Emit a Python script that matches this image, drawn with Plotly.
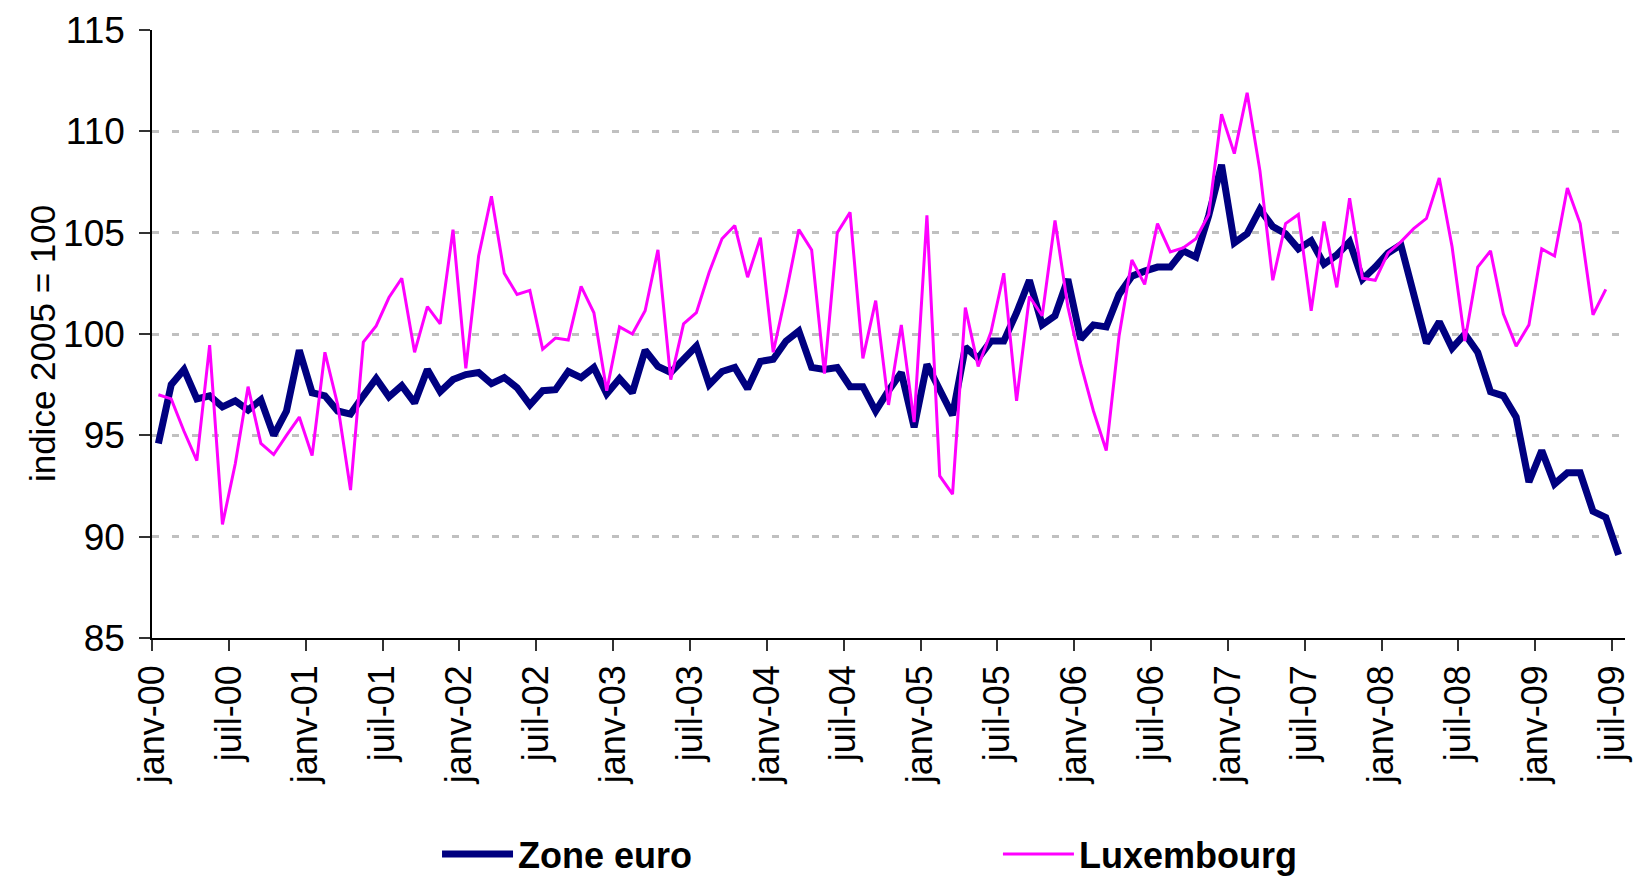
import plotly.graph_objects as go

# Monthly index values (2005 = 100), janv-00 .. juil-09
zone_euro = [
    94.6, 97.5, 98.25, 96.8, 96.95, 96.4, 96.7, 96.25, 96.75, 95.0, 96.2, 99.2,
    97.1, 96.95, 96.2, 96.05, 96.95, 97.8, 96.9, 97.45, 96.6, 98.25, 97.15, 97.75,
    98.0, 98.1, 97.55, 97.85, 97.35, 96.5, 97.2, 97.25, 98.15, 97.85, 98.35, 97.05,
    97.8, 97.1, 99.2, 98.4, 98.1, 98.8, 99.4, 97.5, 98.15, 98.35, 97.3, 98.65,
    98.75, 99.65, 100.15, 98.35, 98.25, 98.35, 97.4, 97.4, 96.2, 97.2, 98.1, 95.4,
    98.5, 97.25, 96.0, 99.35, 98.8, 99.65, 99.65, 101.05, 102.65, 100.45, 100.9, 102.7,
    99.75, 100.45, 100.35, 101.95, 102.85, 103.1, 103.3, 103.3, 104.1, 103.8, 105.85, 108.35,
    104.5, 104.95, 106.15, 105.3, 104.95, 104.2, 104.6, 103.45, 103.9, 104.55, 102.7, 103.3,
    104.0, 104.4, 102.0, 99.55, 100.6, 99.3, 100.0, 99.1, 97.15, 96.95, 95.9, 92.7,
    94.25, 92.6, 93.15, 93.15, 91.25, 90.95, 89.1,
]

# Monthly index values (2005 = 100), janv-00 .. juin-09
luxembourg = [
    97.0, 96.8, 95.2, 93.75, 99.45, 90.6, 93.6, 97.4, 94.6, 94.05, 95.0, 95.9,
    94.0, 99.1, 96.5, 92.3, 99.6, 100.4, 101.8, 102.75, 99.1, 101.35, 100.5, 105.15,
    98.3, 103.85, 106.8, 103.0, 101.95, 102.15, 99.25, 99.8, 99.7, 102.35, 101.05, 97.2,
    100.35, 100.0, 101.15, 104.15, 97.75, 100.5, 101.05, 103.05, 104.7, 105.35, 102.8, 104.75,
    99.1, 102.0, 105.15, 104.15, 98.05, 105.0, 106.0, 98.8, 101.65, 96.5, 100.45, 95.65,
    105.85, 93.0, 92.1, 101.3, 98.4, 100.1, 103.0, 96.7, 101.85, 100.9, 105.6, 101.35,
    98.55, 96.2, 94.25, 99.9, 103.65, 102.45, 105.45, 104.05, 104.25, 104.7, 105.9, 110.85,
    108.9, 111.9, 108.05, 102.65, 105.45, 105.9, 101.15, 105.55, 102.3, 106.7, 102.75, 102.65,
    104.0, 104.55, 105.2, 105.7, 107.7, 104.3, 99.65, 103.3, 104.1, 101.0, 99.4, 100.45,
    104.2, 103.85, 107.2, 105.45, 100.95, 102.2,
]

tick_labels = [
    "janv-00", "juil-00", "janv-01", "juil-01", "janv-02", "juil-02", "janv-03",
    "juil-03", "janv-04", "juil-04", "janv-05", "juil-05", "janv-06", "juil-06",
    "janv-07", "juil-07", "janv-08", "juil-08", "janv-09", "juil-09",
]

y_ticks = [85, 90, 95, 100, 105, 110, 115]
y_title = "indice 2005 = 100"

# month index: each point sits in the middle of its month
x_ze = [i + 0.5 for i in range(len(zone_euro))]
x_lu = [i + 0.5 for i in range(len(luxembourg))]
tick_vals = [6 * k for k in range(len(tick_labels))]

FONT = "Arial, Liberation Sans, sans-serif"
LEG_FONT = dict(family=FONT, size=36, color="black", weight="bold")

fig = go.Figure()
fig.add_trace(go.Scatter(
    x=x_ze, y=zone_euro, mode="lines", name="Zone euro",
    line=dict(color="#000080", width=7), legend="legend",
))
fig.add_trace(go.Scatter(
    x=x_lu, y=luxembourg, mode="lines", name="Luxembourg",
    line=dict(color="#FF00FF", width=3), legend="legend2",
))

fig.update_layout(
    width=1637, height=877,
    margin=dict(l=152, r=12, t=30, b=239, autoexpand=False),
    paper_bgcolor="white", plot_bgcolor="white",
    font=dict(family=FONT, size=36, color="black"),
    showlegend=True,
    legend=dict(
        orientation="h", x=0.1935, y=-0.3555, xanchor="left", yanchor="middle",
        font=LEG_FONT, itemwidth=71, bgcolor="rgba(0,0,0,0)",
    ),
    legend2=dict(
        orientation="h", x=0.5743, y=-0.3555, xanchor="left", yanchor="middle",
        font=LEG_FONT, itemwidth=71, bgcolor="rgba(0,0,0,0)",
    ),
    annotations=[dict(
        text=y_title, textangle=-90, xref="paper", yref="paper",
        x=-0.0747, y=0.485, xanchor="center", yanchor="middle", showarrow=False,
        font=dict(family=FONT, size=35, color="black"),
    )],
)

fig.update_xaxes(
    range=[0, 115], tickmode="array", tickvals=tick_vals, ticktext=tick_labels,
    tickangle=-90, ticks="outside", ticklen=11, tickwidth=1.5, tickcolor="#333",
    showline=True, linecolor="black", linewidth=1.5,
    showgrid=False, zeroline=False,
    tickfont=dict(family=FONT, size=36, color="black"),
)
fig.update_yaxes(
    range=[85, 115], tickmode="array", tickvals=y_ticks,
    ticks="outside", ticklen=11, tickwidth=1.5, tickcolor="#333",
    showline=True, linecolor="black", linewidth=1.5,
    showgrid=True, gridcolor="#C0C0C0", gridwidth=3, griddash="7px,13px",
    zeroline=False,
    tickfont=dict(family=FONT, size=37, color="black"),
    ticklabelstandoff=7,
)

fig.write_html(
    "out.html",
    config={"displayModeBar": False},
    post_script="document.body.style.margin='0';document.body.style.overflow='hidden';",
)
